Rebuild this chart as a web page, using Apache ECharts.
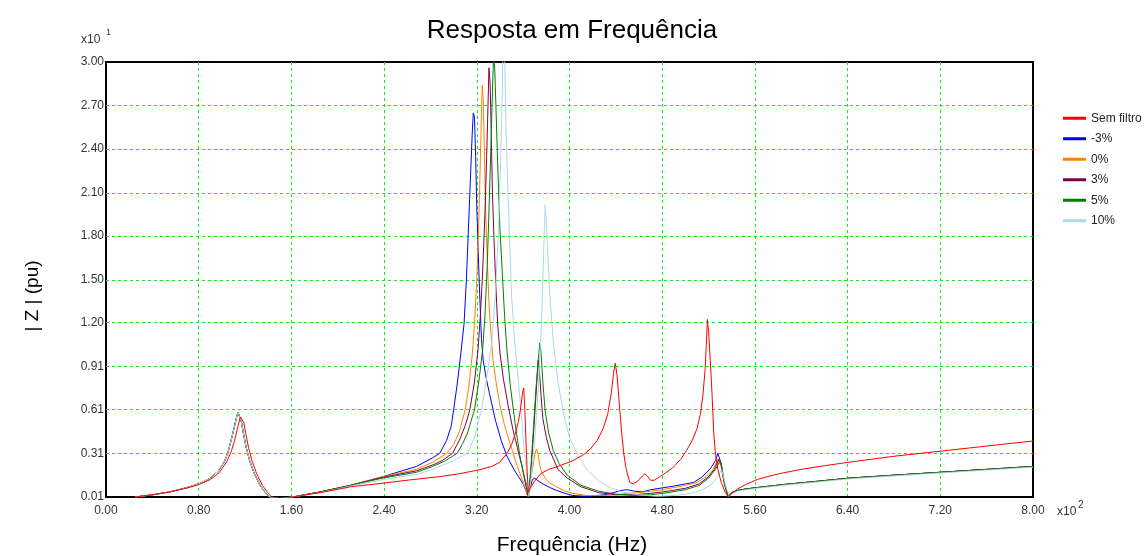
<!DOCTYPE html>
<html>
<head>
<meta charset="utf-8">
<title>Resposta em Frequência</title>
<script src="https://cdn.jsdelivr.net/npm/echarts@6.0.0/dist/echarts.min.js"></script>
<style>
  html, body { margin: 0; padding: 0; background: #fff; }
  #chart { width: 1144px; height: 556px; }
</style>
</head>
<body>
<div id="chart"></div>
<script>
// tick labels (y axis shown in units of x10^1, x axis in x10^2 Hz)
const yTickValues = [0.01, 0.309, 0.608, 0.907, 1.206, 1.505, 1.804, 2.103, 2.402, 2.701, 3.0];
const yTickLabels = ["0.01", "0.31", "0.61", "0.91", "1.20", "1.50", "1.80", "2.10", "2.40", "2.70", "3.00"];
const xTickLabels = ["0.00", "0.80", "1.60", "2.40", "3.20", "4.00", "4.80", "5.60", "6.40", "7.20", "8.00"];

const seriesNames = ["Sem filtro", "-3%", "0%", "3%", "5%", "10%"];
const seriesColors = ["#ff0000", "#0000ff", "#ff8000", "#800040", "#008000", "#add8e6"];

// [frequency Hz, |Z|]
const semFiltro = [
  [25, 0.01], [40, 0.025], [55, 0.045], [70, 0.072], [80, 0.095], [90, 0.13], [98, 0.18], [104, 0.25],
  [108, 0.32], [111, 0.40], [114, 0.50], [116, 0.56], [117, 0.565], [119, 0.52], [121, 0.43], [123, 0.35],
  [126, 0.26], [130, 0.17], [135, 0.09], [139, 0.045], [143, 0.01], [150, 0.0], [161, 0.01],
  [185, 0.04], [211, 0.08], [239, 0.105], [265, 0.13], [288, 0.15], [305, 0.17], [321, 0.195], [333, 0.22],
  [340, 0.25], [346, 0.31], [350, 0.37], [353, 0.44], [356, 0.53], [358, 0.63], [359.5, 0.73], [360.5, 0.76],
  [361.5, 0.6], [362.5, 0.38], [363.5, 0.18], [364.5, 0.04], [366, 0.07], [370, 0.12], [375, 0.17], [382, 0.2],
  [390, 0.22], [403, 0.26], [412, 0.3], [418, 0.34], [424, 0.40], [429, 0.48], [433, 0.58], [436, 0.72],
  [438, 0.86], [439.5, 0.93], [441, 0.85], [443, 0.65], [445, 0.45], [447, 0.3], [449, 0.2], [452, 0.11],
  [455, 0.1], [459, 0.12], [463, 0.155], [465, 0.17], [467, 0.155], [470, 0.125], [473, 0.125], [480, 0.16],
  [489, 0.21], [496, 0.27], [501, 0.33], [506, 0.40], [510, 0.48], [513, 0.58], [515, 0.7], [517, 0.88],
  [518, 1.05], [519, 1.23], [520, 1.15], [521.5, 0.95], [523, 0.72], [524.5, 0.45], [526, 0.3], [528, 0.2],
  [531, 0.11], [534, 0.05], [537, 0.01], [540, 0.035], [545, 0.065], [552, 0.095], [562, 0.13], [573, 0.155],
  [584, 0.175], [600, 0.2], [620, 0.225], [642, 0.25], [680, 0.29], [720, 0.325], [760, 0.36], [800, 0.395]
];

const menos3 = [
  [25, 0.01], [40, 0.025], [55, 0.045], [70, 0.075], [80, 0.10], [90, 0.14], [97, 0.19], [102, 0.25],
  [105, 0.31], [108, 0.40], [111, 0.50], [113, 0.57], [114, 0.59], [115, 0.585], [117, 0.52], [119, 0.43],
  [121, 0.35], [124, 0.26], [128, 0.17], [133, 0.09], [137, 0.045], [141, 0.01], [150, 0.0], [161, 0.01],
  [185, 0.045], [211, 0.09], [239, 0.15], [268, 0.22], [282, 0.28], [288, 0.31], [294, 0.4], [298, 0.5],
  [300, 0.61], [303, 0.78], [306, 0.98], [309, 1.2], [311, 1.5], [313, 1.9], [314.5, 2.2], [316, 2.5],
  [317, 2.65], [318, 2.62], [319, 2.35], [320, 2.0], [321, 1.75], [322.5, 1.4], [324, 1.1], [325.5, 0.95],
  [328, 0.83], [331, 0.72], [336, 0.54], [341, 0.40], [346, 0.29], [352, 0.2], [356, 0.15], [360, 0.1],
  [362.5, 0.05], [364, 0.015], [366, 0.07], [368, 0.13], [370, 0.14], [373, 0.12], [377, 0.1], [383, 0.075],
  [389, 0.055], [396, 0.035], [403, 0.02], [415, 0.015], [430, 0.025], [438, 0.04], [444, 0.055], [450, 0.06],
  [456, 0.05], [463, 0.045], [470, 0.06], [478, 0.07], [490, 0.085], [500, 0.1], [507, 0.11], [513, 0.14],
  [518, 0.175], [522, 0.21], [526, 0.26], [528, 0.31], [529, 0.3], [530.5, 0.25], [532, 0.17], [534, 0.09],
  [537, 0.015], [540, 0.04], [545, 0.055], [552, 0.065], [562, 0.075], [584, 0.095], [610, 0.115], [642, 0.14],
  [680, 0.16], [720, 0.18], [760, 0.2], [800, 0.22]
];

const zero = [
  [25, 0.01], [40, 0.025], [55, 0.045], [70, 0.075], [80, 0.10], [90, 0.14], [97, 0.19], [102, 0.25],
  [105, 0.31], [108, 0.40], [111, 0.50], [113, 0.57], [114, 0.59], [115, 0.585], [117, 0.52], [119, 0.43],
  [121, 0.35], [124, 0.26], [128, 0.17], [133, 0.09], [137, 0.045], [141, 0.01], [150, 0.0], [161, 0.01],
  [185, 0.045], [211, 0.09], [239, 0.15], [268, 0.2], [282, 0.25], [294, 0.31], [300, 0.37], [305, 0.46],
  [310, 0.61], [313, 0.76], [316, 0.98], [318, 1.2], [320, 1.5], [321.5, 1.85], [323, 2.3], [324, 2.65],
  [324.7, 2.84], [325.5, 2.75], [326.5, 2.4], [327.5, 2.0], [329, 1.65], [330.5, 1.35], [332, 1.15], [334, 0.95],
  [337, 0.78], [340, 0.64], [344, 0.5], [349, 0.37], [355, 0.22], [360, 0.11], [364, 0.015], [366, 0.1],
  [368, 0.2], [370, 0.3], [371.5, 0.34], [373, 0.3], [375, 0.2], [379, 0.14], [383, 0.105], [389, 0.08],
  [396, 0.05], [403, 0.035], [415, 0.02], [430, 0.02], [440, 0.025], [450, 0.035], [460, 0.04], [470, 0.05],
  [480, 0.06], [490, 0.075], [500, 0.09], [510, 0.11], [518, 0.15], [524, 0.2], [528, 0.27], [529.5, 0.28],
  [531, 0.22], [533, 0.13], [535, 0.06], [537, 0.015], [540, 0.04], [545, 0.055], [552, 0.065], [562, 0.075],
  [584, 0.095], [610, 0.115], [642, 0.14], [680, 0.16], [720, 0.18], [760, 0.2], [800, 0.22]
];

const mais3 = [
  [25, 0.01], [40, 0.025], [55, 0.045], [70, 0.075], [80, 0.10], [90, 0.14], [97, 0.19], [102, 0.25],
  [105, 0.31], [108, 0.40], [111, 0.50], [113, 0.57], [114, 0.59], [115, 0.585], [117, 0.52], [119, 0.43],
  [121, 0.35], [124, 0.26], [128, 0.17], [133, 0.09], [137, 0.045], [141, 0.01], [150, 0.0], [161, 0.01],
  [185, 0.045], [211, 0.09], [239, 0.145], [268, 0.19], [282, 0.23], [290, 0.26], [299, 0.31], [305, 0.4],
  [310, 0.5], [314, 0.61], [318, 0.8], [321, 1.02], [323, 1.25], [325, 1.55], [327, 1.95], [328.5, 2.35],
  [329.5, 2.65], [330.5, 2.96], [331.5, 2.85], [332.5, 2.5], [333.5, 2.1], [335, 1.75], [336.5, 1.45], [338, 1.2],
  [340, 1.0], [343, 0.82], [347, 0.64], [351, 0.48], [355, 0.35], [359, 0.22], [362, 0.1], [364.5, 0.015],
  [367, 0.22], [369, 0.45], [371, 0.7], [373, 0.95], [374, 0.88], [375.5, 0.7], [377, 0.55], [380, 0.42],
  [383, 0.33], [390, 0.2], [398, 0.14], [410, 0.08], [425, 0.04], [440, 0.025], [455, 0.025], [470, 0.035],
  [485, 0.05], [500, 0.07], [512, 0.1], [520, 0.15], [525, 0.2], [529, 0.27], [530.5, 0.25], [532, 0.18],
  [534, 0.1], [537, 0.015], [540, 0.04], [545, 0.055], [552, 0.065], [562, 0.075], [584, 0.095], [610, 0.115],
  [642, 0.14], [680, 0.16], [720, 0.18], [760, 0.2], [800, 0.22]
];

const mais5 = [
  [25, 0.01], [40, 0.025], [55, 0.045], [70, 0.075], [80, 0.10], [90, 0.14], [97, 0.19], [102, 0.25],
  [105, 0.31], [108, 0.40], [111, 0.50], [113, 0.57], [114, 0.59], [115, 0.585], [117, 0.52], [119, 0.43],
  [121, 0.35], [124, 0.26], [128, 0.17], [133, 0.09], [137, 0.045], [141, 0.01], [150, 0.0], [161, 0.01],
  [185, 0.045], [211, 0.09], [239, 0.14], [268, 0.18], [282, 0.22], [293, 0.26], [303, 0.31], [308, 0.38],
  [312, 0.45], [318, 0.61], [322, 0.82], [325, 1.02], [327, 1.25], [329, 1.6], [331, 2.1], [332.5, 2.5],
  [333.5, 2.8], [334.5, 3.05], [335.5, 2.95], [336.5, 2.7], [338, 2.3], [340, 1.85], [342, 1.55], [344, 1.25],
  [346, 1.02], [349, 0.77], [353, 0.52], [357, 0.3], [361, 0.15], [363, 0.09], [365, 0.015], [367, 0.25],
  [369, 0.5], [371, 0.75], [373, 0.95], [374.5, 1.07], [375.5, 1.0], [377, 0.8], [379, 0.6], [382, 0.45],
  [386, 0.33], [391, 0.24], [398, 0.16], [410, 0.09], [425, 0.05], [440, 0.03], [455, 0.02], [470, 0.025],
  [485, 0.04], [500, 0.06], [512, 0.09], [520, 0.14], [526, 0.2], [530, 0.26], [531.5, 0.22], [533, 0.13],
  [535, 0.06], [537, 0.015], [540, 0.04], [545, 0.055], [552, 0.065], [562, 0.075], [584, 0.095], [610, 0.115],
  [642, 0.14], [680, 0.16], [720, 0.18], [760, 0.2], [800, 0.22]
];

const mais10 = [
  [25, 0.01], [40, 0.025], [55, 0.045], [70, 0.075], [80, 0.10], [90, 0.14], [97, 0.19], [102, 0.25],
  [105, 0.31], [108, 0.40], [111, 0.50], [113, 0.57], [114, 0.59], [115, 0.585], [117, 0.52], [119, 0.43],
  [121, 0.35], [124, 0.26], [128, 0.17], [133, 0.09], [137, 0.045], [141, 0.01], [150, 0.0], [161, 0.01],
  [185, 0.04], [211, 0.085], [239, 0.13], [268, 0.165], [282, 0.2], [300, 0.26], [312, 0.31], [318, 0.42],
  [324, 0.61], [329, 0.85], [333, 1.08], [336, 1.4], [338.5, 1.8], [340.5, 2.3], [342, 2.8], [343, 3.3],
  [344, 3.1], [345, 2.6], [346.5, 2.2], [348, 1.85], [350, 1.4], [352, 1.15], [355, 0.88], [358, 0.62],
  [360, 0.42], [362, 0.25], [363.5, 0.14], [365, 0.015], [367, 0.15], [370, 0.4], [373, 0.75], [375.5, 1.15],
  [377, 1.5], [378.3, 1.85], [379, 2.02], [380, 1.9], [381.5, 1.65], [383, 1.4], [386, 1.08], [390, 0.8],
  [395, 0.58], [400, 0.42], [407, 0.3], [415, 0.2], [425, 0.12], [435, 0.075], [445, 0.045], [460, 0.025],
  [475, 0.015], [490, 0.02], [505, 0.035], [515, 0.06], [523, 0.1], [528, 0.15], [531, 0.2], [533, 0.15],
  [535, 0.08], [538, 0.015], [541, 0.035], [545, 0.05], [552, 0.06], [562, 0.07], [584, 0.09], [610, 0.11],
  [642, 0.135], [680, 0.155], [720, 0.175], [760, 0.195], [800, 0.215]
];

const seriesData = [semFiltro, menos3, zero, mais3, mais5, mais10];

const font = "Liberation Sans";
const gridGreen = "#11ee11";

const series = seriesNames.map((name, i) => ({
  name: name,
  type: "line",
  data: seriesData[i],
  showSymbol: false,
  clip: true,
  emphasis: { disabled: true },
  lineStyle: { width: 1, color: seriesColors[i] },
  z: i === 0 ? 3 : 2
}));

// horizontal grid lines at the (uneven) y tick positions
series[0].markLine = {
  silent: true,
  z: 1,
  symbol: "none",
  animation: false,
  label: { show: false },
  lineStyle: { color: gridGreen, type: [3, 3], width: 1 },
  data: yTickValues.slice(1, -1).map((v) => ({ yAxis: v }))
};

const option = {
  animation: false,
  color: seriesColors,
  title: {
    text: "Resposta em Frequência",
    left: "center",
    top: 13,
    textStyle: { fontFamily: font, fontSize: 26, fontWeight: "normal", color: "#000" }
  },
  legend: {
    orient: "vertical",
    left: 1058,
    top: 106,
    icon: "rect",
    itemWidth: 23,
    itemHeight: 3,
    itemGap: 6,
    data: seriesNames,
    textStyle: { fontFamily: font, fontSize: 12, color: "#222", lineHeight: 14.5 }
  },
  grid: {
    left: 106,
    top: 62,
    width: 927,
    height: 435,
    show: true,
    borderColor: "#000",
    borderWidth: 2,
    containLabel: false
  },
  xAxis: {
    type: "value",
    min: 0,
    max: 800,
    interval: 80,
    axisLine: { show: true, lineStyle: { color: "#000", width: 2 } },
    axisTick: { show: false },
    axisLabel: {
      margin: 8,
      fontFamily: font,
      fontSize: 12,
      color: "#333",
      formatter: (v) => xTickLabels[Math.round(v / 80)]
    },
    splitLine: {
      show: true,
      showMinLine: false,
      showMaxLine: false,
      lineStyle: { color: gridGreen, type: [3, 3], width: 1 }
    }
  },
  yAxis: {
    type: "value",
    min: 0.01,
    max: 3.0,
    axisLine: { show: true, lineStyle: { color: "#000", width: 2 } },
    axisTick: { show: false },
    axisLabel: {
      customValues: yTickValues,
      margin: 2,
      fontFamily: font,
      fontSize: 12,
      color: "#333",
      formatter: (v) => {
        let best = 0;
        yTickValues.forEach((t, k) => {
          if (Math.abs(t - v) < Math.abs(yTickValues[best] - v)) best = k;
        });
        return yTickLabels[best];
      }
    },
    splitLine: { show: false }
  },
  graphic: [
    {
      type: "text", x: 33, y: 296, rotation: Math.PI / 2,
      style: { text: "| Z | (pu)", font: "19px " + font, fill: "#000", textAlign: "center", textVerticalAlign: "middle" }
    },
    {
      type: "text", x: 572, y: 545,
      style: { text: "Frequência (Hz)", font: "21px " + font, fill: "#000", textAlign: "center", textVerticalAlign: "middle" }
    },
    {
      type: "text", x: 81, y: 40,
      style: { text: "x10", font: "12px " + font, fill: "#333", textVerticalAlign: "middle" }
    },
    {
      type: "text", x: 106, y: 33,
      style: { text: "1", font: "9px " + font, fill: "#333", textVerticalAlign: "middle" }
    },
    {
      type: "text", x: 1057, y: 512,
      style: { text: "x10", font: "12px " + font, fill: "#333", textVerticalAlign: "middle" }
    },
    {
      type: "text", x: 1078, y: 505,
      style: { text: "2", font: "10px " + font, fill: "#333", textVerticalAlign: "middle" }
    }
  ],
  series: series
};

const chart = echarts.init(document.getElementById("chart"));
chart.setOption(option);
</script>
</body>
</html>
